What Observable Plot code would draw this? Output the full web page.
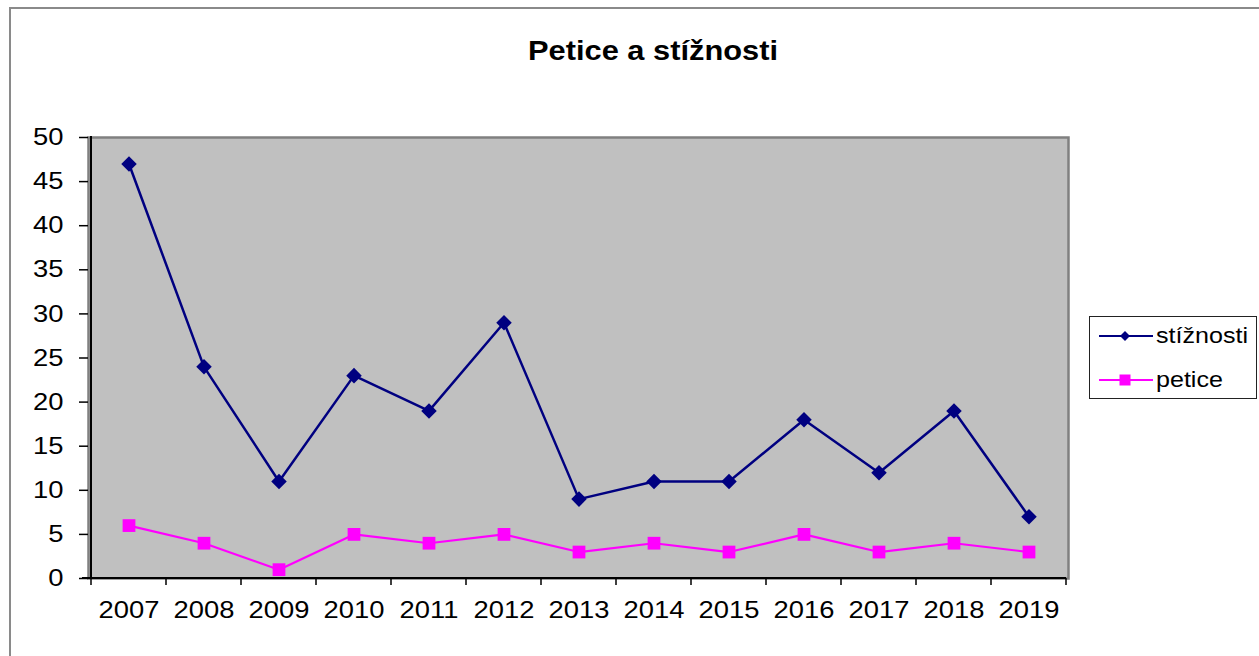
<!DOCTYPE html>
<html>
<head>
<meta charset="utf-8">
<script src="https://cdn.jsdelivr.net/npm/d3@7"></script>
<script src="https://cdn.jsdelivr.net/npm/@observablehq/plot@0.6"></script>
<style>
  html, body { margin: 0; padding: 0; background: #fff; }
  body { font-family: "Liberation Sans", Arial, sans-serif; }
  #wrap { position: relative; width: 1259px; height: 656px; overflow: hidden; }
  #border { position: absolute; left: 9px; top: 7px; width: 1270px; height: 670px; border: 2px solid #8a8a8a; box-sizing: border-box; }
  #chart { position: absolute; left: 0; top: 0; }
  #title { position: absolute; top: 35px; left: 653px; transform: translateX(-50%) scaleX(1.1); font-weight: bold; font-size: 28px; white-space: nowrap; color: #000; line-height: 32px; }
  #legend { position: absolute; left: 1089px; top: 316px; width: 168px; height: 83px; border: 1.5px solid #222; box-sizing: border-box; background: #fff; }
  .item { position: absolute; left: 8px; height: 30px; display: flex; align-items: center; }
  .item svg { display: block; }
  .item span { font-size: 22px; margin-left: 2px; display: inline-block; transform: scaleX(1.14); transform-origin: left center; color: #000; }
</style>
</head>
<body>
<div id="wrap">
  <div id="chart"></div>
  <div id="border"></div>
  <div id="title"></div>
  <div id="legend"></div>
</div>
<script>
const years = ["2007","2008","2009","2010","2011","2012","2013","2014","2015","2016","2017","2018","2019"];
const stiznosti = [47, 24, 11, 23, 19, 29, 9, 11, 11, 18, 12, 19, 7];
const petice = [6, 4, 1, 5, 4, 5, 3, 4, 3, 5, 3, 4, 3];
const yTicks = [0, 5, 10, 15, 20, 25, 30, 35, 40, 45, 50];
const seriesNames = ["stížnosti", "petice"];
const titleText = "Petice a stížnosti";

const navy = "#000080";
const magenta = "#ff00ff";

const sData = years.map((y, i) => ({year: y, value: stiznosti[i]}));
const pData = years.map((y, i) => ({year: y, value: petice[i]}));

// axis line on the left and category-boundary ticks on the bottom
function axisDecor(...args) {
  const scales = args.find(a => a && typeof a.x === "function" && typeof a.y === "function");
  const x = scales.x, y = scales.y;
  const ns = "http://www.w3.org/2000/svg";
  const g = document.createElementNS(ns, "g");
  const y0 = y(0), yTop = y(50);
  const bounds = years.map(d => x(d)).concat([x(years[years.length - 1]) + x.bandwidth()]);
  const addLine = (x1, y1, x2, y2, stroke, w) => {
    const l = document.createElementNS(ns, "line");
    l.setAttribute("x1", x1); l.setAttribute("y1", y1);
    l.setAttribute("x2", x2); l.setAttribute("y2", y2);
    l.setAttribute("stroke", stroke); l.setAttribute("stroke-width", w);
    g.appendChild(l);
  };
  addLine(bounds[0], yTop - 1, bounds[0], y0 + 1, "#000", 2);
  addLine(bounds[0] - 9, y0, bounds[bounds.length - 1], y0, "#000", 2);
  for (const b of bounds) addLine(b, y0, b, y0 + 7, "#000", 1.5);
  return g;
}

const chart = Plot.plot({
  width: 1259,
  height: 656,
  marginLeft: 88,
  marginRight: 191,
  marginTop: 137,
  marginBottom: 78,
  style: {fontFamily: "'Liberation Sans', Arial, sans-serif", fontSize: "24px", color: "#000", background: "transparent"},
  x: {type: "band", domain: years, padding: 0, align: 0.5, label: null},
  y: {domain: [0, 50], label: null},
  marks: [
    Plot.frame({fill: "#c0c0c0", stroke: "#808080", strokeWidth: 2.5}),
    Plot.axisY({ticks: yTicks, tickSize: 9, tickPadding: 16, stroke: "#000", strokeWidth: 1.5, fill: "#000", label: null}),
    Plot.axisX({tickSize: 0, tickPadding: 22, fill: "#000", label: null}),
    axisDecor,
    Plot.line(pData, {x: "year", y: "value", stroke: magenta, strokeWidth: 2.2}),
    Plot.dot(pData, {x: "year", y: "value", symbol: "square", r: 7.2, fill: magenta, stroke: "none"}),
    Plot.line(sData, {x: "year", y: "value", stroke: navy, strokeWidth: 2.5}),
    Plot.dot(sData, {x: "year", y: "value", symbol: "diamond2", r: 7, fill: navy, stroke: "none"})
  ]
});
document.getElementById("chart").appendChild(chart);
// widen tick labels slightly (the reference font is horizontally stretched)
chart.querySelectorAll("text").forEach(t => {
  const tr = t.getAttribute("transform");
  if (tr) t.setAttribute("transform", tr + " scale(1.14,1)");
});
document.getElementById("title").textContent = titleText;

// legend
const legend = document.getElementById("legend");
const legendItems = [
  {name: seriesNames[0], color: navy, symbol: "diamond", top: 4},
  {name: seriesNames[1], color: magenta, symbol: "square", top: 48}
];
for (const it of legendItems) {
  const div = document.createElement("div");
  div.className = "item";
  div.style.top = it.top + "px";
  const marker = it.symbol === "diamond"
    ? `<path d="M27,10 L32,15 L27,20 L22,15 Z" fill="${it.color}"/>`
    : `<rect x="21.5" y="9.5" width="11" height="11" fill="${it.color}"/>`;
  div.innerHTML = `<svg width="56" height="30"><line x1="1" y1="15" x2="55" y2="15" stroke="${it.color}" stroke-width="2"/>${marker}</svg><span>${it.name}</span>`;
  legend.appendChild(div);
}
</script>
</body>
</html>
